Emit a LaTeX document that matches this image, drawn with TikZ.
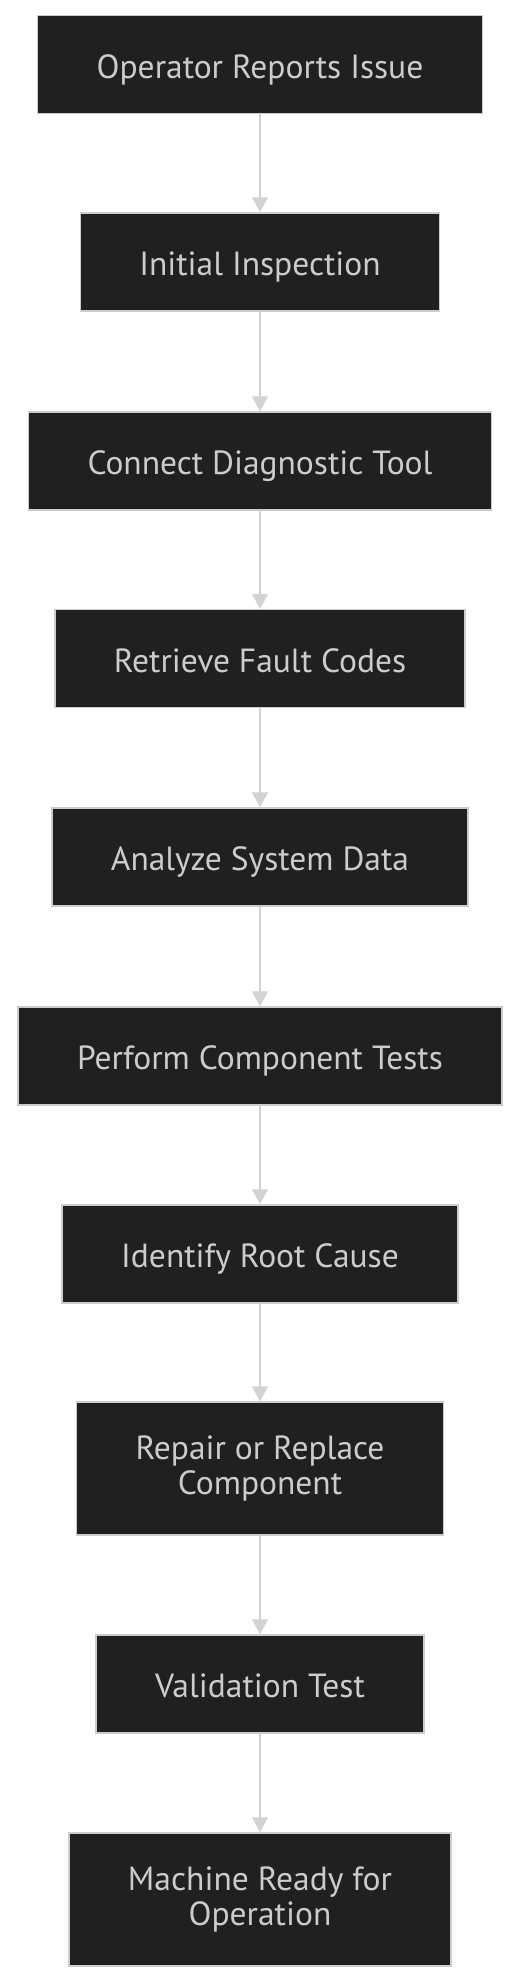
\documentclass[tikz,border=0pt]{standalone}
\usepackage{fontspec}
\setmainfont{PT Sans}
\usepackage{xcolor}
\usepackage{tikz}
\usetikzlibrary{arrows.meta}
\definecolor{stepfill}{HTML}{1F2020}
\definecolor{stepline}{HTML}{CCCCCC}
\definecolor{steptext}{HTML}{CCCCCC}
\definecolor{flowline}{HTML}{D3D3D3}
\tikzset{
  stepbase/.style = {rectangle, fill=stepfill, draw=stepline, line width=1.5pt,
                     text=steptext, font=\fontsize{33.5}{35}\selectfont,
                     align=center, inner xsep=59pt},
  stepbox/.style  = {stepbase, text height=27.5pt, text depth=0pt,
                     minimum height=98pt},
  steptall/.style = {stepbase, minimum height=133pt},
  flow/.style     = {-{Triangle[length=15pt,width=16pt]}, line width=1.5pt,
                     flowline},
}

\begin{document}
\begin{tikzpicture}[x=1pt, y=-1pt]
\useasboundingbox (0,0) rectangle (520,1983);
\node[stepbox] (report) at (260, 64.5) {Operator Reports Issue} ;
\node[stepbox] (inspect) at (260, 262) {Initial Inspection} ;
\node[stepbox] (connect) at (260, 461) {Connect Diagnostic Tool} ;
\node[stepbox] (codes) at (260, 658.5) {Retrieve Fault Codes} ;
\node[stepbox] (analyze) at (260, 857) {Analyze System Data} ;
\node[stepbox] (tests) at (260, 1056) {Perform Component Tests} ;
\node[stepbox] (cause) at (260, 1254) {Identify Root Cause} ;
\node[steptall] (repair) at (260, 1468.5) {Repair or Replace\\Component} ;
\node[stepbox] (valid) at (260, 1684) {Validation Test} ;
\node[steptall] (ready) at (260, 1899.5) {Machine Ready for\\Operation} ;
\draw[flow] (report) to (inspect) {} ;
\draw[flow] (inspect) to (connect) {} ;
\draw[flow] (connect) to (codes) {} ;
\draw[flow] (codes) to (analyze) {} ;
\draw[flow] (analyze) to (tests) {} ;
\draw[flow] (tests) to (cause) {} ;
\draw[flow] (cause) to (repair) {} ;
\draw[flow] (repair) to (valid) {} ;
\draw[flow] (valid) to (ready) {} ;
\end{tikzpicture}
\end{document}
